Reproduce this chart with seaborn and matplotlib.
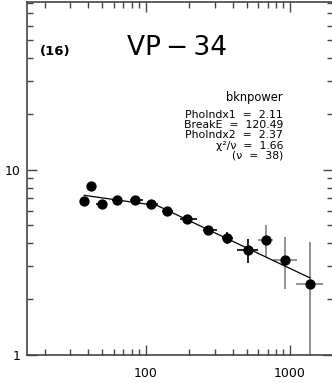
import numpy as np
import pandas as pd
import matplotlib
matplotlib.use("Agg")
import matplotlib.pyplot as plt
import seaborn as sns
from matplotlib.ticker import FixedLocator, FixedFormatter, LogLocator, NullFormatter

# ---- data ----
energy = [37.3, 42.0, 49.7, 63.2, 83.9, 109.5, 141, 193, 270, 367, 508, 679, 923, 1377]
e_lo   = [35.6, 40.2, 45.5, 58.1, 77.4, 100, 129, 172, 248, 337, 428, 602, 766, 1101]
e_hi   = [38.9, 43.8, 53.9, 68.7, 95.3, 121, 154, 226, 313, 402, 597, 766, 1113, 1694]
flux   = [6.75, 8.17, 6.53, 6.87, 6.87, 6.56, 5.96, 5.41, 4.74, 4.27, 3.66, 4.17, 3.24, 2.40]
f_lo   = [6.55, 7.95, 6.33, 6.67, 6.67, 6.36, 5.76, 5.21, 4.50, 3.96, 3.13, 3.37, 2.26, 0.5]
f_hi   = [6.95, 8.39, 6.73, 7.07, 7.07, 6.76, 6.16, 5.61, 4.98, 4.60, 4.24, 5.00, 4.31, 4.06]
model_e = [37.3, 120.49, 1377]
model_f = [7.27, 6.39, 2.60]

x_ticks = [100, 1000]
x_ticklabels = ["100", "1000"]
y_ticks = [1, 10]
y_ticklabels = ["1", "10"]

title = "VP\u2009\u2212\u200934"
panel = "(16)"
fit_lines = ["PhoIndx1  =  2.11", "BreakE  =  120.49", "PhoIndx2  =  2.37",
             "\u03c7\u00b2/\u03bd  =  1.66", "(\u03bd  =  38)"]

df = pd.DataFrame({"energy": energy, "flux": flux})
mdf = pd.DataFrame({"energy": model_e, "flux": model_f})

sns.set_style("ticks")
plt.rcParams["font.family"] = ["DejaVu Sans"]
plt.rcParams["text.color"] = "black"

fig = plt.figure(figsize=(3.32, 3.83), dpi=100)
ax = fig.add_axes([27 / 332, 28.3 / 383, (333.4 - 27) / 332, 352.7 / 383])
ax.set_xscale("log")
ax.set_yscale("log")

e = np.array(energy); f = np.array(flux)
xerr = [e - np.array(e_lo), np.array(e_hi) - e]
yerr = [f - np.array(f_lo), np.array(f_hi) - f]
colors = ["black"] * 11 + ["#808080"] * 3
for i in range(len(e)):
    ax.errorbar([e[i]], [f[i]], xerr=[[xerr[0][i]], [xerr[1][i]]],
                yerr=[[yerr[0][i]], [yerr[1][i]]], fmt="none",
                ecolor=colors[i], elinewidth=1.2, capsize=0, zorder=2)

sns.lineplot(data=mdf, x="energy", y="flux", ax=ax, color="black", lw=0.9, zorder=3)
sns.scatterplot(data=df, x="energy", y="flux", ax=ax, color="black", s=55,
                edgecolor="black", linewidth=0, zorder=4)

ax.set_xlim(15, 2000)
ax.set_ylim(1, 80.6)
ax.set_xlabel("")
ax.set_ylabel("")

ax.xaxis.set_major_locator(FixedLocator(x_ticks))
ax.xaxis.set_major_formatter(FixedFormatter(x_ticklabels))
ax.yaxis.set_major_locator(FixedLocator(y_ticks))
ax.yaxis.set_major_formatter(FixedFormatter(y_ticklabels))
ax.xaxis.set_minor_locator(LogLocator(base=10, subs=np.arange(2, 10)))
ax.yaxis.set_minor_locator(LogLocator(base=10, subs=np.arange(2, 10)))
ax.xaxis.set_minor_formatter(NullFormatter())
ax.yaxis.set_minor_formatter(NullFormatter())

ax.tick_params(which="both", direction="in", top=True, right=True,
               color="#444444", width=1, labelsize=9, labelcolor="black")
ax.tick_params(which="major", length=7, pad=5)
ax.tick_params(axis="x", which="major", pad=9)
ax.tick_params(which="minor", length=4)
for s in ax.spines.values():
    s.set_color("#444444")
    s.set_linewidth(1.2)

fig.text(40 / 332, 1 - 52 / 383, panel, fontsize=9.5, color="black",
         fontweight="bold", ha="left", va="center")
fig.text(177 / 332, 1 - 48 / 383, title, fontsize=19, color="black",
         ha="center", va="center")
fig.text(283 / 332, 1 - 97 / 383, "bknpower", fontsize=8.3, color="black",
         ha="right", va="center")
ys = [115, 125, 135.5, 145.5, 156]
for t, yy in zip(fit_lines, ys):
    fig.text(283 / 332, 1 - yy / 383, t, fontsize=7.8, color="black",
             ha="right", va="center")

fig.savefig("out.png", dpi=100)
